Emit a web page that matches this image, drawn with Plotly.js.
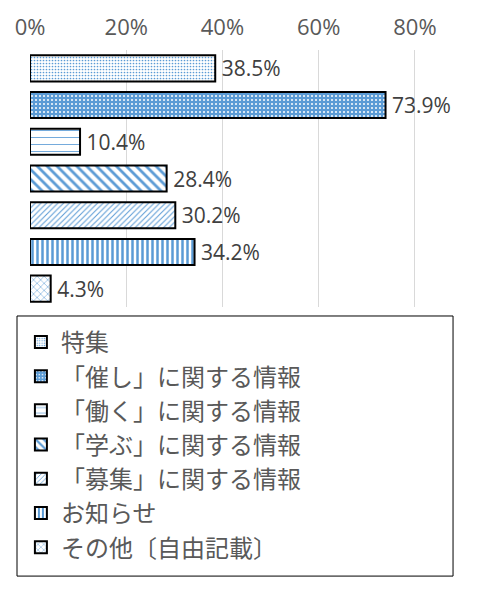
<!DOCTYPE html>
<html>
<head>
<meta charset="utf-8">
<script src="https://cdn.plot.ly/plotly-3.0.1.min.js"></script>
<style>
  body { margin: 0; background: #fff; }
  #chart { width: 480px; height: 590px; }
</style>
</head>
<body>
<div id="chart"></div>
<script>
// categories and answer rates (share of respondents)
const categories = [
  "特集",
  "「催し」に関する情報",
  "「働く」に関する情報",
  "「学ぶ」に関する情報",
  "「募集」に関する情報",
  "お知らせ",
  "その他〔自由記載〕",
];
const rates = [0.385, 0.739, 0.104, 0.284, 0.302, 0.342, 0.043];
const rateLabels = ["38.5%", "73.9%", "10.4%", "28.4%", "30.2%", "34.2%", "4.3%"];

const tickValues = [0, 0.2, 0.4, 0.6, 0.8];
const tickLabels = ["0%", "20%", "40%", "60%", "80%"];

const blue = "#5b9bd5";

// one fill pattern per category
const patterns = [
  { shape: ".", fgcolor: blue, bgcolor: "#ffffff", size: 3, solidity: 0.25 },
  { shape: ".", fgcolor: "#ffffff", bgcolor: blue, size: 4, solidity: 0.2 },
  { shape: "-", fgcolor: blue, bgcolor: "#ffffff", size: 7, solidity: 0.12 },
  { shape: "\\", fgcolor: blue, bgcolor: "#ffffff", size: 7, solidity: 0.4 },
  { shape: "/", fgcolor: blue, bgcolor: "#ffffff", size: 4, solidity: 0.25 },
  { shape: "|", fgcolor: blue, bgcolor: "#ffffff", size: 5, solidity: 0.5 },
  { shape: "x", fgcolor: blue, bgcolor: "#ffffff", size: 5, solidity: 0.2 },
];

const data = categories.map((name, i) => ({
  type: "bar",
  orientation: "h",
  name: name,
  legendgroup: name,
  x: [rates[i]],
  y: [name],
  text: ["\u2009" + rateLabels[i]],
  textposition: "outside",
  constraintext: "none",
  textfont: { family: "Open Sans, sans-serif", size: 21, color: "#404040" },
  cliponaxis: false,
  hoverinfo: "skip",
  marker: {
    color: "#ffffff",
    line: { color: "#000000", width: 2 },
    pattern: patterns[i],
  },
}));

const layout = {
  width: 480,
  height: 590,
  margin: { t: 50, l: 30, r: 17, b: 283 },
  paper_bgcolor: "#ffffff",
  plot_bgcolor: "#ffffff",
  barmode: "overlay",
  bargap: 0.29,
  showlegend: true,
  legend: {
    x: -0.021,
    xanchor: "left",
    y: -0.05,
    yanchor: "top",
    traceorder: "normal",
    tracegroupgap: 7,
    borderwidth: 0,
    bgcolor: "rgba(0,0,0,0)",
    font: { family: "Noto Sans CJK JP, sans-serif", size: 24, color: "#595959" },
  },
  xaxis: {
    side: "top",
    range: [0, 0.9],
    tickvals: tickValues,
    ticktext: tickLabels,
    showgrid: true,
    gridcolor: "#d9d9d9",
    gridwidth: 1,
    zeroline: false,
    showline: false,
    ticks: "",
    ticklabelstandoff: 10,
    tickfont: { family: "Open Sans, sans-serif", size: 22, color: "#595959" },
    fixedrange: true,
  },
  yaxis: {
    type: "category",
    autorange: "reversed",
    showticklabels: false,
    showgrid: false,
    zeroline: false,
    showline: false,
    ticks: "",
    fixedrange: true,
  },
  shapes: [
    {
      type: "rect",
      xref: "paper",
      yref: "paper",
      x0: -0.030,
      x1: 0.977,
      y0: -1.047,
      y1: -0.035,
      line: { color: "#000000", width: 1 },
      fillcolor: "rgba(0,0,0,0)",
    },
  ],
};

const config = {
  responsive: false,
  displayModeBar: false,
  staticPlot: true,
};

Plotly.newPlot("chart", data, layout, config);
</script>
</body>
</html>
